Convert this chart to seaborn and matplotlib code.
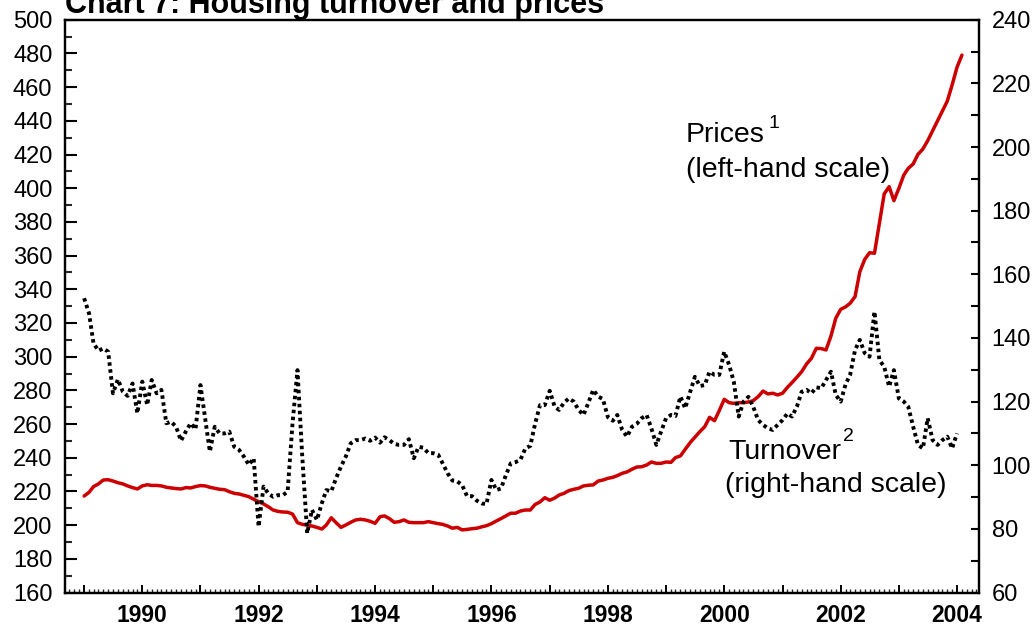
import pandas as pd
import matplotlib
matplotlib.use("Agg")
import matplotlib.pyplot as plt
import matplotlib.dates as mdates
from matplotlib.ticker import MultipleLocator, FuncFormatter
import seaborn as sns

# monthly values, starting January 1989
# prices (left-hand scale)
prices = [
    217.3, 219.5, 222.9, 224.5, 226.8, 227.0, 226.2, 225.2, 224.5, 223.3, 222.3, 221.5,
    223.3, 224.0, 223.6, 223.6, 223.3, 222.5, 222.1, 221.7, 221.5, 222.3, 222.1, 222.9,
    223.5, 223.3, 222.5, 221.9, 221.3, 221.1, 219.9, 218.9, 218.5, 217.7, 216.9, 215.4,
    214.0, 212.6, 211.0, 209.0, 208.2, 207.8, 207.7, 206.6, 201.5, 200.5, 200.0, 199.5,
    198.7, 197.7, 200.1, 204.4, 201.5, 198.7, 200.1, 201.7, 203.1, 203.5, 203.1, 202.3,
    201.1, 205.0, 205.5, 203.9, 201.7, 202.1, 203.1, 201.7, 201.5, 201.5, 201.5, 202.1,
    201.5, 200.9, 200.5, 199.5, 198.2, 198.7, 197.2, 197.5, 197.9, 198.2, 199.0, 199.7,
    200.9, 202.5, 203.9, 205.5, 207.1, 207.1, 208.4, 209.0, 209.0, 212.3, 213.8, 216.3,
    214.8, 216.1, 217.9, 218.9, 220.5, 221.3, 221.9, 223.3, 223.7, 223.9, 226.2, 226.8,
    227.8, 228.4, 229.4, 230.8, 231.6, 233.2, 234.5, 234.7, 235.7, 237.5, 236.7, 236.7,
    237.5, 237.3, 240.1, 241.1, 245.0, 249.0, 252.2, 255.5, 258.5, 264.0, 262.0, 268.0,
    274.7, 272.7, 272.3, 272.7, 272.7, 273.1, 273.9, 276.3, 279.6, 277.9, 278.3, 277.3,
    278.3, 281.8, 284.6, 287.8, 291.1, 295.7, 299.0, 305.0, 304.8, 304.0, 312.3, 322.8,
    328.1, 329.6, 331.7, 335.6, 350.4, 357.8, 361.7, 361.4, 379.2, 396.6, 400.9, 392.6,
    399.9, 407.8, 411.8, 414.4, 420.1, 423.3, 428.2, 434.1, 439.9, 445.8, 451.7, 461.2,
    471.8, 479.0,
]

# turnover (right-hand scale)
turnover = [
    152.5, 147.7, 138.3, 136.0, 136.7, 135.7, 122.6, 127.0, 123.1, 121.8, 125.7, 116.3,
    126.3, 118.9, 126.8, 122.6, 123.7, 113.2, 113.7, 112.1, 107.7, 110.6, 113.2, 111.3,
    125.2, 114.2, 104.3, 112.1, 110.0, 110.0, 110.6, 105.8, 104.8, 102.7, 100.1, 102.2,
    80.7, 93.3, 91.2, 90.1, 90.6, 90.6, 91.7, 113.2, 129.9, 102.7, 78.6, 86.0,
    82.8, 88.1, 92.2, 91.8, 95.9, 99.6, 102.7, 106.9, 107.9, 107.9, 108.4, 107.7,
    108.7, 107.1, 108.8, 107.9, 106.7, 106.4, 106.4, 108.2, 102.2, 105.8, 105.5, 103.8,
    103.8, 103.3, 100.6, 97.5, 95.2, 94.9, 93.8, 90.3, 90.3, 88.9, 88.0, 87.8,
    95.4, 92.2, 92.7, 96.9, 100.6, 101.0, 101.7, 105.3, 106.1, 113.0, 118.9, 118.9,
    123.4, 118.4, 117.4, 119.7, 121.0, 120.0, 117.4, 115.8, 119.7, 123.7, 121.6, 120.8,
    115.1, 114.0, 115.8, 111.1, 109.0, 112.1, 113.0, 114.8, 115.8, 111.6, 106.4, 110.6,
    114.8, 115.8, 115.5, 121.6, 117.9, 123.0, 127.8, 124.9, 125.2, 129.4, 128.4, 128.4,
    135.7, 131.5, 126.3, 115.3, 120.0, 121.5, 118.4, 114.2, 112.7, 111.6, 111.1, 112.7,
    114.2, 116.3, 115.3, 118.4, 123.1, 123.7, 122.6, 124.5, 124.2, 126.8, 129.4, 122.1,
    120.0, 125.5, 128.4, 136.2, 139.4, 135.2, 134.1, 148.3, 133.0, 131.0, 124.7, 129.9,
    121.0, 120.0, 118.4, 112.1, 106.4, 105.3, 114.8, 107.9, 106.4, 107.9, 109.0, 105.3,
    110.0,
]

price_dates = pd.date_range("1989-01-01", periods=len(prices), freq="MS")
turnover_dates = price_dates[:len(turnover)]
df_prices = pd.DataFrame({"date": price_dates, "value": prices})
df_turnover = pd.DataFrame({"date": turnover_dates, "value": turnover})

sns.set_theme(style="white")
plt.rcParams["font.family"] = ["Liberation Sans", "DejaVu Sans"]
plt.rcParams["text.color"] = "black"

fig, ax = plt.subplots(figsize=(10.35, 6.26), dpi=100)
fig.subplots_adjust(left=0.0628, right=0.9459, top=0.9685, bottom=0.0534)
ax2 = ax.twinx()

sns.lineplot(data=df_prices, x="date", y="value", ax=ax, color="#cc0000", linewidth=2.5)
sns.lineplot(data=df_turnover, x="date", y="value", ax=ax2, color="black",
             linewidth=2.8, linestyle=(0, (0.9, 0.9)))

for a in (ax, ax2):
    a.set_xlabel("")
    a.set_ylabel("")
    for sp in a.spines.values():
        sp.set_color("black")
        sp.set_linewidth(1.6)

ax.set_xlim(pd.Timestamp("1988-09-03"), pd.Timestamp("2004-05-18"))
ax.set_ylim(160, 500)
ax2.set_ylim(60, 240)

ax.xaxis.set_major_locator(mdates.YearLocator())
ax.xaxis.set_minor_locator(mdates.MonthLocator())
ax.xaxis.set_major_formatter(FuncFormatter(
    lambda x, pos: str(mdates.num2date(x).year) if mdates.num2date(x).year % 2 == 0 else ""))
ax.yaxis.set_major_locator(MultipleLocator(20))
ax.yaxis.set_minor_locator(MultipleLocator(10))
ax2.yaxis.set_major_locator(MultipleLocator(20))
ax2.yaxis.set_minor_locator(MultipleLocator(10))

ax.tick_params(axis="x", which="major", bottom=True, top=False, direction="in",
               length=6, width=1.4, labelsize=16.5, pad=8, colors="black")
ax.tick_params(axis="x", which="minor", bottom=True, top=False, direction="in",
               length=3, width=1.0)
ax.tick_params(axis="y", which="major", left=True, right=False, direction="in",
               length=8.5, width=1.5, labelsize=17, pad=9, colors="black")
ax.tick_params(axis="y", which="minor", left=True, right=False, direction="in",
               length=5, width=1.5)
ax2.tick_params(axis="y", which="both", right=True, left=False, direction="in",
                length=5.5, width=1.5, labelsize=17, pad=9, colors="black")

plt.setp(ax.get_xticklabels(), fontweight="bold")

ax2.text(0.679, 0.799, "Prices", transform=ax2.transAxes, fontsize=20.5,
         ha="left", va="center")
ax2.text(0.770, 0.8195, "1", transform=ax2.transAxes, fontsize=14,
         ha="left", va="center")
ax2.text(0.679, 0.7375, "(left-hand scale)", transform=ax2.transAxes, fontsize=20.5,
         ha="left", va="center")
ax2.text(0.7254, 0.246, "Turnover", transform=ax2.transAxes, fontsize=20.5,
         ha="left", va="center")
ax2.text(0.851, 0.273, "2", transform=ax2.transAxes, fontsize=14,
         ha="left", va="center")
ax2.text(0.722, 0.188, "(right-hand scale)", transform=ax2.transAxes, fontsize=20.5,
         ha="left", va="center")

fig.text(65 / 1035, 1 - 13 / 626, "Chart 7: Housing turnover and prices",
         fontsize=22, fontweight="bold", ha="left", va="baseline")

fig.savefig("out.png", dpi=100)
